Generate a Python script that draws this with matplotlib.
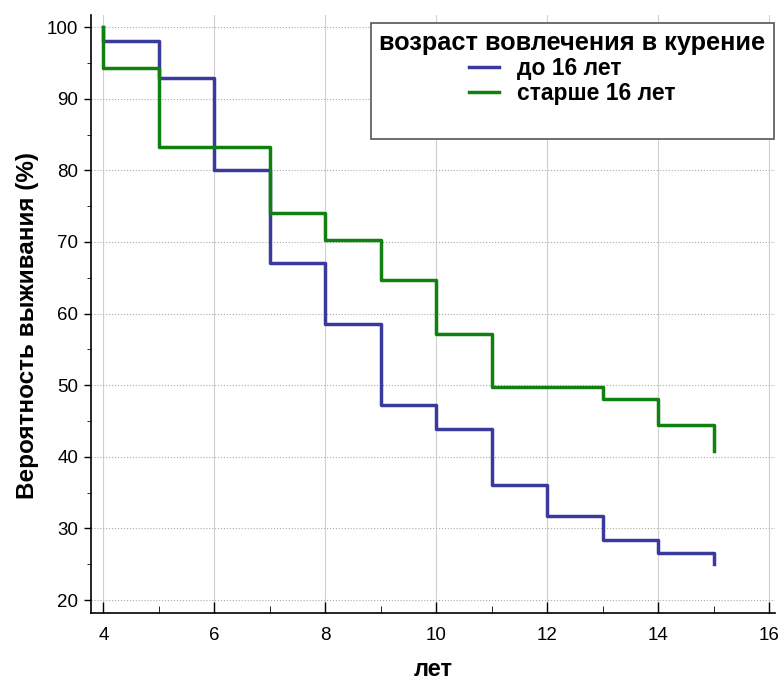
import numpy as np
import matplotlib.pyplot as plt
plt.rcParams['font.family'] = ['Liberation Sans', 'DejaVu Sans']

# survival steps (years, percent)
years = [4, 5, 6, 7, 8, 9, 10, 11, 12, 13, 14, 15]
under16 = [98.1, 92.9, 80.1, 67.1, 58.5, 47.3, 43.9, 36.1, 31.7, 28.4, 26.6, 25.0]
over16 = [94.3, 83.3, 83.3, 74.1, 70.3, 64.7, 57.2, 49.8, 49.8, 48.1, 44.4, 40.8]
labels = ['до 16 лет', 'старше 16 лет']

fig = plt.figure(figsize=(7.82, 6.81), dpi=100)
ax = fig.add_axes([0.116, 0.100, 0.875, 0.878])

ax.step([4] + years, [100] + under16, where='post', color='#3a3a9e', lw=2.5, label=labels[0])
ax.step([4] + years, [100] + over16, where='post', color='#108010', lw=2.5, label=labels[1])
ax.plot([], [], color='none', label=' ')  # blank row, the reference box has empty space below

ax.set_xlim(3.77, 16.1)
ax.set_ylim(18.2, 101.7)
ax.set_xticks(range(4, 17, 2))
ax.set_xticks(range(4, 17, 1), minor=True)
ax.set_yticks(range(20, 101, 10))
ax.set_yticks(range(20, 101, 5), minor=True)
ax.tick_params(axis='x', which='major', direction='in', labelsize=13.5, length=8, width=1, pad=10)
ax.tick_params(axis='x', which='minor', direction='in', length=5)
ax.tick_params(axis='y', which='major', direction='out', labelsize=13.5, length=5, width=1, pad=4)
ax.tick_params(axis='y', which='minor', direction='out', length=3)
ax.grid(True, axis='x', color='#d0d0d0', lw=0.8)
ax.grid(True, axis='y', color='#aaaaaa', lw=0.8, ls=':')
for s in ['top', 'right']:
    ax.spines[s].set_visible(False)
ax.spines['left'].set_linewidth(1.2)
ax.spines['bottom'].set_linewidth(1.2)

ax.set_xlabel('лет', fontsize=17, fontweight='bold')
ax.set_ylabel('Вероятность выживания (%)', fontsize=17.5, fontweight='bold')
ax.xaxis.set_label_coords(0.5, -0.075)
ax.yaxis.set_label_coords(-0.076, 0.48)

leg = ax.legend(title='возраст вовлечения в курение', loc='upper right',
                bbox_to_anchor=(0.998, 0.987), borderaxespad=0, prop={'size': 16.5, 'weight': 'bold'},
                title_fontproperties={'size': 18.3, 'weight': 'bold'},
                fancybox=False, framealpha=1, edgecolor='#555555',
                borderpad=0.35, handlelength=1.3, handletextpad=0.8, labelspacing=0.1)
leg._legend_box.align = 'center'
leg.get_frame().set_linewidth(1.2)

fig.savefig('out.png', dpi=100)
